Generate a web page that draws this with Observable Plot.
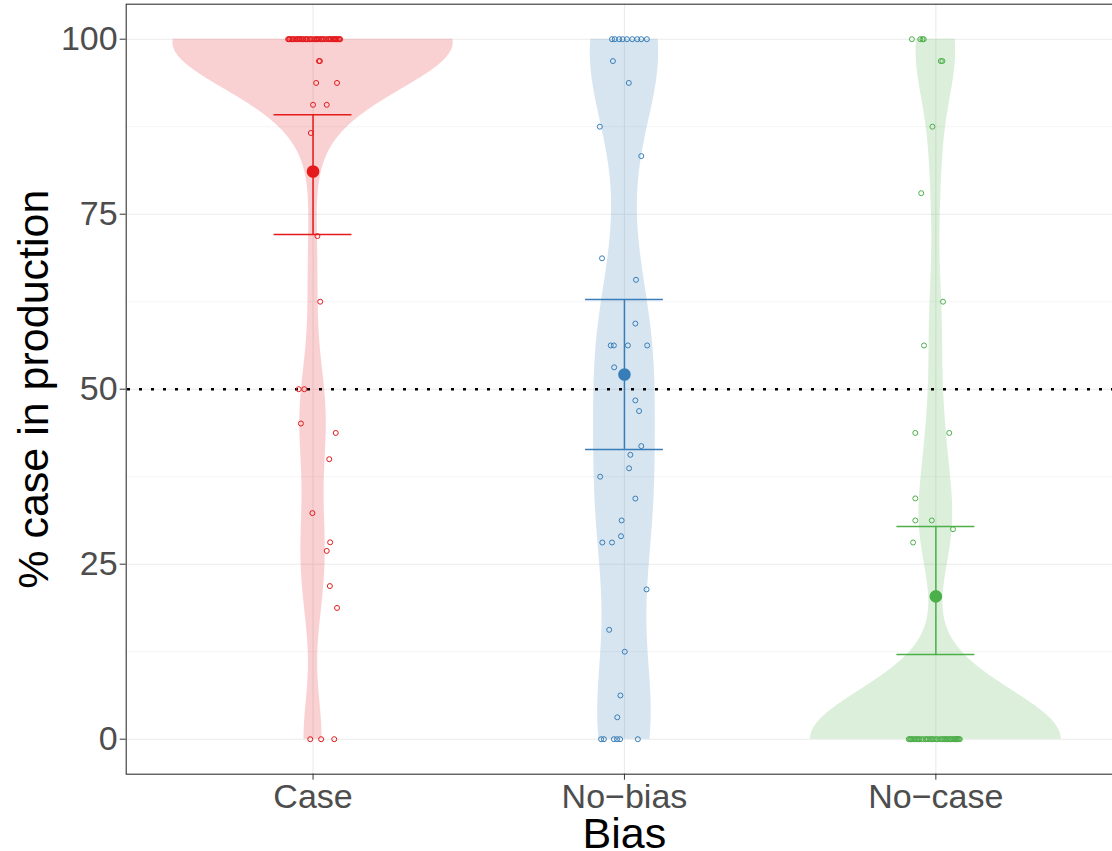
<!DOCTYPE html>
<html><head><meta charset="utf-8">
<script src="https://cdn.jsdelivr.net/npm/d3@7"></script>
<script src="https://cdn.jsdelivr.net/npm/@observablehq/plot@0.6"></script>
<style>body{margin:0;background:#fff;}</style>
</head><body><div id="chart"></div>
<script>
// ---- data ----
const categories = ["Case", "No\u2212bias", "No\u2212case"];
const colors = ["#E41A1C", "#377EB8", "#4DAF4A"];
const yTicks = [0, 25, 50, 75, 100];
const yMinor = [12.5, 37.5, 62.5, 87.5];
const chanceLevel = 50;

const caseValues = [
  100,100,100,100,100,100,100,100,100,100,
  100,100,100,100,100,100,100,100,100,100,
  100,100,100,100,100,100,100,100,100,100,
  100,100,100,100,100,100,100,100,100,100,
  100,100,100,
  96.875,96.875,93.75,93.75,90.625,90.625,86.6,71.875,62.5,50,50,45.1,43.75,40,32.3,28.125,26.9,21.875,18.75,0,0,0];
const caseJitter = [
  -0.080,0.031,-0.052,0.067,-0.011,0.083,-0.070,0.004,0.048,-0.038,
  0.075,-0.024,0.019,-0.062,0.058,-0.003,0.087,-0.045,0.036,-0.075,
  0.012,0.070,-0.030,0.052,-0.057,0.025,-0.017,0.079,-0.066,0.042,
  0.008,-0.042,0.063,-0.008,0.028,-0.049,0.085,-0.034,0.015,0.055,
  -0.021,0.072,-0.077,
  0.022,0.019,0.010,0.077,0.000,0.044,-0.007,0.014,0.023,-0.046,-0.028,-0.039,0.073,0.052,-0.002,0.055,0.044,0.054,0.077,-0.009,0.026,0.068];

const noBiasValues = [
  100,100,100,100,100,100,100,100,100,
  96.875,93.75,87.5,83.3,68.7,65.625,59.375,56.25,56.25,56.25,56.25,53.125,
  48.4,46.875,41.875,40.625,38.7,37.5,34.375,31.25,29,28.1,28.1,21.4,15.625,12.5,6.25,3.125,
  0,0,0,0,0,0];
const noBiasJitter = [
  -0.040,-0.031,-0.017,-0.006,0.008,0.025,0.041,0.054,0.072,
  -0.037,0.014,-0.079,0.054,-0.072,0.037,0.035,-0.044,-0.034,0.011,0.073,-0.033,
  0.035,0.047,0.054,0.019,0.015,-0.078,0.035,-0.009,-0.011,-0.071,-0.040,0.071,-0.049,0.001,-0.013,-0.023,
  -0.075,-0.066,-0.034,-0.024,-0.014,0.043];

const noCaseValues = [
  100,100,100,100,96.875,96.875,87.5,78,62.5,56.25,43.75,43.75,34.4,31.25,31.25,30,28.1,
  0,0,0,0,0,0,0,0,0,0,
  0,0,0,0,0,0,0,0,0,0,
  0,0,0,0,0,0,0,0,0,0,
  0,0,0,0,0,0,0,0,0];
const noCaseJitter = [
  -0.077,-0.050,-0.043,-0.039,0.016,0.021,-0.011,-0.047,0.023,-0.038,-0.066,0.043,-0.066,-0.066,-0.013,0.055,-0.073,
  -0.087,0.022,-0.060,0.071,-0.015,0.047,-0.078,0.005,0.063,-0.040,
  0.030,-0.069,0.077,-0.025,0.013,-0.052,0.055,-0.006,0.038,-0.083,
  0.068,-0.033,0.018,-0.064,0.044,-0.011,0.074,-0.046,0.027,-0.073,
  0.059,0.001,-0.029,0.035,-0.056,0.066,-0.019,0.050,-0.081];

const means = [81.1, 52.1, 20.4];
const lower = [72.1, 41.4, 12.1];
const upper = [89.2, 62.8, 30.4];

// ---- display parameters ----
const bandwidths = [6.5, 10, 7];
const violinWidth = 0.9;
const capWidth = 0.25;

// ---- build tables ----
const groups = [
  {values: caseValues, jitter: caseJitter},
  {values: noBiasValues, jitter: noBiasJitter},
  {values: noCaseValues, jitter: noCaseJitter}
];
const points = [];
groups.forEach((g, i) => g.values.forEach((v, j) => points.push({cat: categories[i], pos: i + 1 + g.jitter[j], value: v})));

function kde(values, bw) {
  const n = values.length, lo = d3.min(values), hi = d3.max(values), out = [];
  const steps = 500;
  for (let k = 0; k <= steps; k++) {
    const y = lo + (hi - lo) * k / steps;
    let s = 0;
    for (const v of values) { const u = (y - v) / bw; s += Math.exp(-0.5 * u * u); }
    out.push({y, d: s / (n * bw * Math.sqrt(2 * Math.PI))});
  }
  return out;
}
let violin = [];
groups.forEach((g, i) => kde(g.values, bandwidths[i]).forEach(r => violin.push({cat: categories[i], pos: i + 1, y: r.y, d: r.d})));
const maxD = d3.max(violin, r => r.d);
violin.forEach(r => r.hw = r.d / maxD * violinWidth / 2);

const summary = categories.map((c, i) => ({cat: c, pos: i + 1, mean: means[i], lo: lower[i], hi: upper[i]}));

const plot = Plot.plot({
  width: 1112,
  height: 851,
  marginLeft: 125.7,
  marginRight: -10.2,
  marginTop: 3.7,
  marginBottom: 77.3,
  style: {fontFamily: "'Liberation Sans', Arial, sans-serif", background: "#fff"},
  x: {domain: [0.4, 3.6], range: [125.7, 1122.2]},
  y: {domain: [-5, 105], range: [773.7, 3.7]},
  color: {domain: categories, range: colors},
  marks: [
    Plot.ruleY(yMinor, {stroke: "#EBEBEB", strokeWidth: 0.55}),
    Plot.ruleY(yTicks, {stroke: "#EBEBEB", strokeWidth: 1.1}),
    Plot.ruleX([1, 2, 3], {stroke: "#EBEBEB", strokeWidth: 1.1}),
    Plot.areaX(violin, {y: "y", x1: d => d.pos - d.hw, x2: d => d.pos + d.hw, z: "cat", fill: "cat", fillOpacity: 0.2}),
    Plot.ruleY([chanceLevel], {stroke: "#000", strokeWidth: 2.6, strokeDasharray: "3,9", strokeDashoffset: 10.7}),
    Plot.dot(points, {x: "pos", y: "value", stroke: "cat", fill: "none", r: 2.5, strokeWidth: 1}),
    Plot.ruleX(summary, {x: "pos", y1: "lo", y2: "hi", stroke: "cat", strokeWidth: 1.5}),
    Plot.ruleY(summary, {y: "hi", x1: d => d.pos - capWidth / 2, x2: d => d.pos + capWidth / 2, stroke: "cat", strokeWidth: 1.5}),
    Plot.ruleY(summary, {y: "lo", x1: d => d.pos - capWidth / 2, x2: d => d.pos + capWidth / 2, stroke: "cat", strokeWidth: 1.5}),
    Plot.dot(summary, {x: "pos", y: "mean", fill: "cat", r: 6.3}),
    Plot.frame({stroke: "#333333", strokeWidth: 1.1}),
    Plot.axisY(yTicks, {anchor: "left", tickSize: 6, tickPadding: 2.5, fontSize: 34, stroke: "#333333", fill: "#4D4D4D", label: null}),
    Plot.axisX([1, 2, 3], {anchor: "bottom", tickSize: 6, tickPadding: 3.3, fontSize: 34, stroke: "#333333", fill: "#4D4D4D", tickFormat: i => categories[i - 1], label: null}),
    Plot.text(["% case in production"], {y: () => 50, frameAnchor: "left", textAnchor: "middle", lineAnchor: "middle", dx: -92, rotate: -90, fontSize: 43, fill: "#000", text: d => d}),
    Plot.text(["Bias"], {x: () => 2, frameAnchor: "bottom", textAnchor: "middle", lineAnchor: "bottom", dy: 74, fontSize: 43, fill: "#000", text: d => d})
  ]
});
document.getElementById("chart").appendChild(plot);
</script>
</body></html>
